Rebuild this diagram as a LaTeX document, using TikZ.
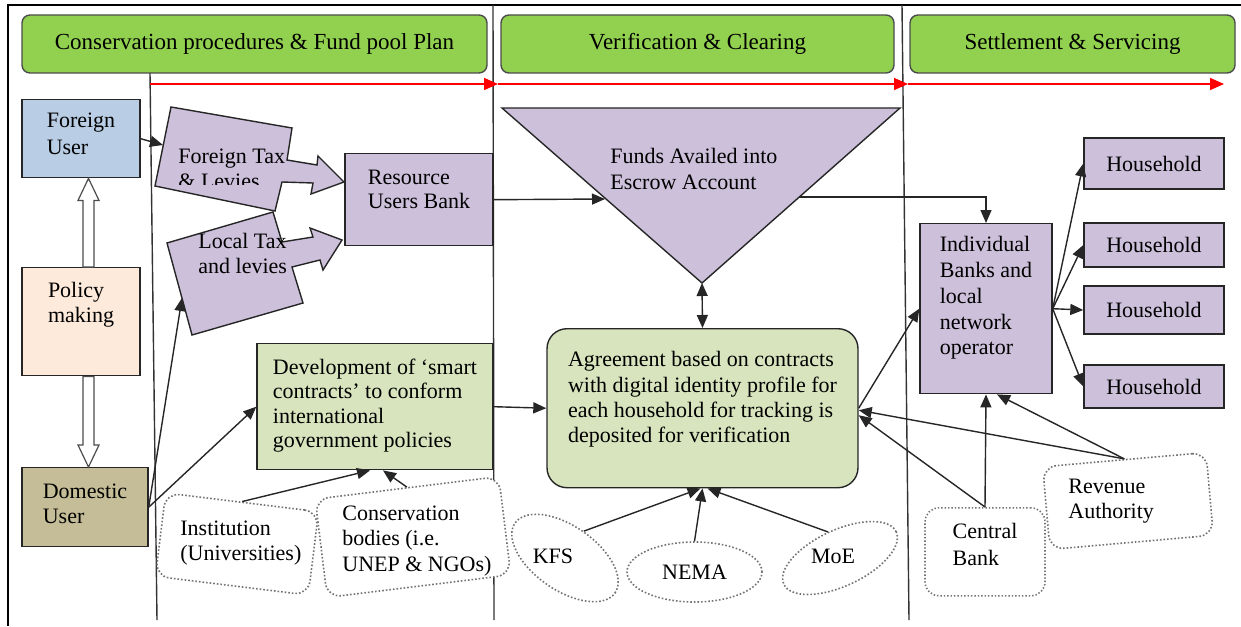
\documentclass[tikz,border=0pt]{standalone}
\usepackage{fontspec}
\setmainfont{Liberation Serif}
\usetikzlibrary{arrows.meta,calc,shapes.geometric}
\hyphenpenalty=10000

\definecolor{stagegreen}{HTML}{92D050}
\definecolor{lilac}{HTML}{CCC0DA}
\definecolor{sage}{HTML}{D7E4BD}
\definecolor{userblue}{HTML}{B9CDE5}
\definecolor{peach}{HTML}{FDEADA}
\definecolor{khaki}{HTML}{C4BD97}

\newcommand{\hollowarrow}[2]{%
  \filldraw[hollow] let \p1=(#1), \p2=(#2), \p3=($(#2)!11pt!(#1)$) in
    (\x1-2.75pt,\y1) -- (\x1-2.75pt,\y3) -- (\x1-5.25pt,\y3) -- (\x2,\y2)
    -- (\x1+5.25pt,\y3) -- (\x1+2.75pt,\y3) -- (\x1+2.75pt,\y1) -- cycle;}

\tikzset{
            stage/.style={draw=black!70, line width=0.7pt, fill=stagegreen, rounded corners=4pt,
                minimum width=#1, minimum height=29pt, inner sep=0pt, font=\fontsize{11.5}{13}\selectfont},
            tbox/.style={draw=black!85, line width=0.7pt, anchor=north, align=left, inner sep=0pt},
            house/.style={draw=black!85, line width=0.7pt, fill=lilac, minimum width=70pt, inner sep=0pt},
            soft/.style={draw=black!55, densely dotted, line width=0.8pt, fill=white, rounded corners=7pt},
            ell/.style={ellipse, draw=black!55, densely dotted, line width=0.8pt, fill=white, inner sep=0pt},
            lbl/.style={anchor=base west, align=left, inner sep=0pt},
            lane/.style={draw=black!80, line width=0.7pt},
            flow/.style={draw=red, line width=0.8pt, -{Triangle[length=7pt,width=6pt]}},
            link/.style={draw=black!85, line width=0.7pt, ->},
            hollow/.style={draw=black!70, fill=white, line width=0.6pt},
            lilacshape/.style={draw=black!85, line width=0.7pt, fill=lilac}
        }

\begin{document}
\begin{tikzpicture}[
                    x=0.5pt, y=-0.5pt,
                    every node/.style={font=\fontsize{11}{13}\selectfont},
                    >={Triangle[length=6.5pt,width=5.5pt]}
                    ]
                \useasboundingbox (0,0) rectangle (1241,626);
                \draw[line width=1.2pt] (8,626) -- (8,5) -- (1241,5);
                \draw[lane] (150,73) -- (157,620);
                \draw[lane] (493,5) -- (494,620);
                \draw[lane] (902,5) -- (909,620);

                \coordinate (f0) at (150,84);
                \coordinate (f1) at (498,84);
                \coordinate (f2) at (908,84);
                \coordinate (f3) at (1224,84);
                \draw[flow] (f0) -- (f1);
                \draw[flow] (f1) -- (f2);
                \draw[flow] (f2) -- (f3);

                \node[stage=232.5pt] (plan) at (254.5,44) {Conservation procedures \& Fund pool Plan};
                \node[stage=196.5pt] (verify) at (697.5,44) {Verification \& Clearing};
                \node[stage=162.5pt] (settle) at (1072.5,44) {Settlement \& Servicing};

                \node[tbox, fill=userblue, minimum width=59pt, text height=27.5pt, text depth=11.5pt,
                    font=\fontsize{11}{13.5}\selectfont] (foreign) at (81,99) {Foreign\\User};
                \node[tbox, fill=peach, minimum width=59pt, text height=27.5pt, text depth=26.5pt,
                    font=\fontsize{11}{12.5}\selectfont] (policy) at (81,267) {Policy\\making};
                \node[tbox, fill=khaki, minimum width=63pt, text height=28pt, text depth=11.5pt,
                    font=\fontsize{11}{12.5}\selectfont] (domestic) at (85,467) {Domestic\\User};
                \hollowarrow{[xshift=3.75pt]policy.north}{[xshift=3.75pt]foreign.south}
                \hollowarrow{[xshift=3.75pt]policy.south}{[xshift=1.75pt]domestic.north}

                \filldraw[lilacshape] (171,107) -- (292,128) -- (287,160) -- (317,165) -- (318,156)
                    -- (344,182) -- (311,194) -- (313,183) -- (282,182) -- (275,211) -- (155,186) -- cycle;
                \filldraw[lilacshape] (167,243) -- (273,212) -- (282,242) -- (313,237) -- (310,228)
                    -- (342,240) -- (323,270) -- (320,260) -- (292,267) -- (303,303) -- (192,335) -- cycle;
                \begin{scope}
                    \clip (150,100) rectangle (300,184);
                    \node[lbl, font=\fontsize{11}{12.5}\selectfont] (ftax) at (178,188) {Foreign Tax\\\& Levies};
                \end{scope}
                \node[lbl, font=\fontsize{11}{12.5}\selectfont] (ltax) at (198,273) {Local Tax\\and levies};
                \coordinate (ftax-w) at (163,145);
                \coordinate (ltax-s) at (182,298);

                \node[tbox, fill=lilac, minimum width=74pt, text height=27.5pt, text depth=18.5pt,
                    font=\fontsize{11}{12}\selectfont] (bank) at (419,153) {Resource\\Users Bank};

                \filldraw[lilacshape] (502,108) -- (900,108) -- (702,283) -- cycle;
                \node[lbl] (escrow) at (610,189) {Funds Availed into\\Escrow Account};
                \coordinate (escrow-w) at (605,199);
                \coordinate (escrow-e) at (799,197);
                \coordinate (escrow-s) at (702,283);

                \node[tbox, fill=sage, minimum width=118pt, text height=51.8pt, text depth=11.2pt,
                    font=\fontsize{11}{12.1}\selectfont] (smart) at (375,343)
                    {Development of `smart\\contracts' to conform\\international\\government policies};
                \node[tbox, fill=sage, rounded corners=10pt, minimum width=155.5pt, text height=56.95pt,
                    text depth=22.55pt, font=\fontsize{11}{12.65}\selectfont] (agree) at (702.5,328)
                    {Agreement based on contracts\\with digital identity profile for\\each household for tracking is\\deposited for verification};

                \node[tbox, fill=lilac, minimum width=66pt, text height=65.6pt, text depth=19.4pt,
                    font=\fontsize{11}{12.9}\selectfont] (banks) at (986,223)
                    {Individual\\Banks and\\local\\network\\operator};
                \node[house, minimum height=25.5pt] (h1) at (1154,163.5) {Household};
                \node[house, minimum height=22pt] (h2) at (1154,245) {Household};
                \node[house, minimum height=24pt] (h3) at (1154,310) {Household};
                \node[house, minimum height=21.5pt] (h4) at (1154,386.5) {Household};

                \node[soft, minimum width=77pt, minimum height=42pt, rotate=-7] (inst) at (237,544) {};
                \node[lbl, font=\fontsize{11}{12.5}\selectfont] (instl) at (180,560) {Institution\\(Universities)};
                \node[soft, minimum width=92.5pt, minimum height=49.5pt, rotate=7] (cons) at (413,537) {};
                \node[lbl, font=\fontsize{11}{12.75}\selectfont] (consl) at (342,571) {Conservation\\bodies (i.e.\\UNEP \& NGOs)};

                \node[ell, minimum width=61pt, minimum height=32pt, rotate=-35] (kfs) at (565,558) {};
                \node (kfsl) at (553,556) {KFS};
                \node[ell, minimum width=67.5pt, minimum height=30pt] (nema) at (694.5,572) {NEMA};
                \node[ell, minimum width=62pt, minimum height=28pt, rotate=25] (moe) at (840,558) {};
                \node (moel) at (833,556) {MoE};

                \node[tbox, soft, minimum width=60pt, text height=29pt, text depth=15pt,
                    font=\fontsize{11}{13.5}\selectfont] (central) at (985,507) {Central\\Bank};
                \node[soft, minimum width=82pt, minimum height=41.5pt, rotate=5] (revenue) at (1128,501) {};
                \node[lbl, font=\fontsize{11}{12.5}\selectfont] (revenuel) at (1068,518) {Revenue\\Authority};

                \draw[link] (foreign.east) -- (ftax-w);
                \draw[link] (domestic.east) -- (ltax-s);
                \draw[link] (domestic.east) -- (smart.west);
                \draw[link] (bank.east) -- (escrow-w);
                \draw[link] (escrow-e) -| (banks.north);
                \draw[link, <->] (escrow-s) -- (agree.north);
                \draw[link] (smart.east) -- (agree.west);
                \draw[link] (inst.north) -- ([xshift=-2.5pt]smart.south);
                \draw[link] (cons.north) -- ([xshift=4pt]smart.south);
                \draw[link] (kfs.north) -- ([xshift=-1pt]agree.south);
                \draw[link] (nema.north) -- (agree.south);
                \draw[link] (moe.north) -- ([xshift=2.5pt]agree.south);
                \draw[link] (agree.east) -- (banks.west);
                \draw[link] (revenue.north) -- ([yshift=-1pt]agree.east);
                \draw[link] (central.north) -- ([yshift=-3.5pt]agree.east);
                \draw[link] (central.north) -- (banks.south);
                \draw[link] (revenue.north) -- ([xshift=5.5pt]banks.south);
                \draw[link] (banks.east) -- (h1.west);
                \draw[link] (banks.east) -- (h2.west);
                \draw[link] (banks.east) -- (h3.west);
                \draw[link] (banks.east) -- (h4.west);
            \end{tikzpicture}
\end{document}
